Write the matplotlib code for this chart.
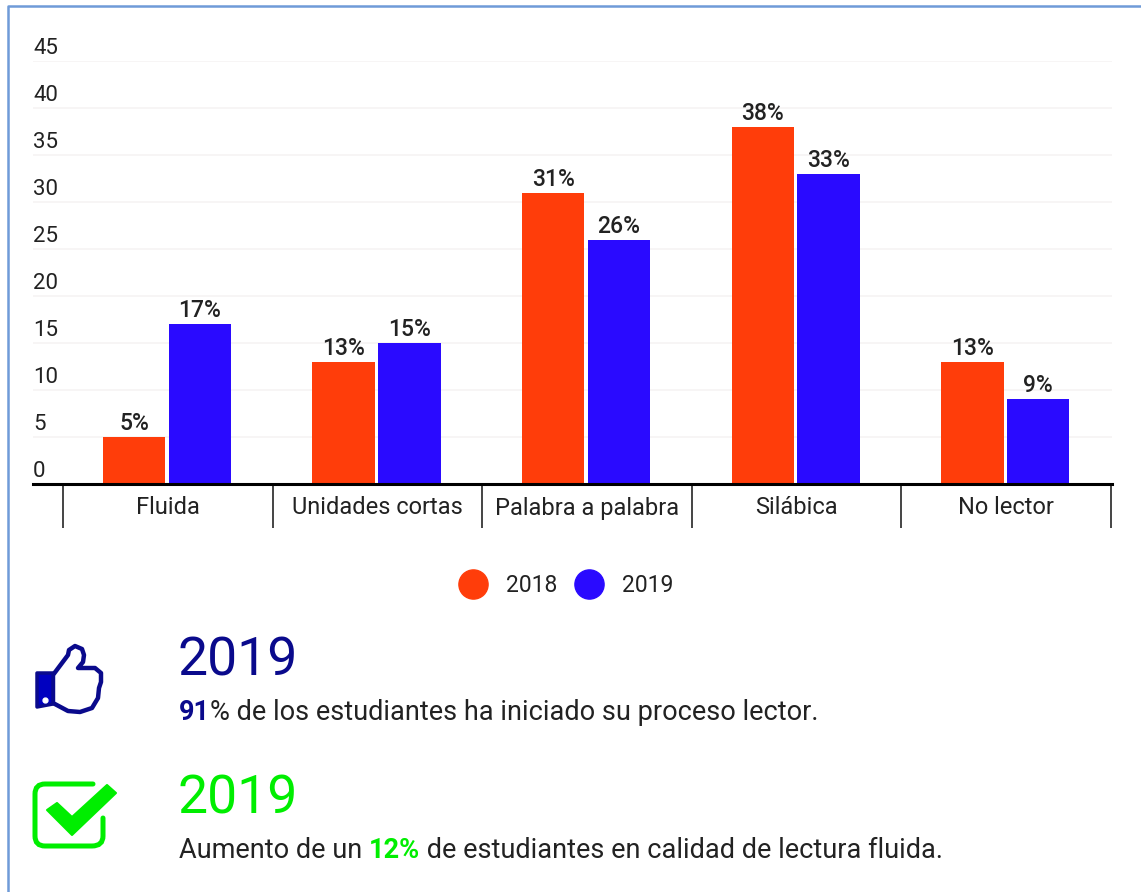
import matplotlib
matplotlib.use("Agg")
import matplotlib.pyplot as plt
from matplotlib.lines import Line2D
from matplotlib.patches import PathPatch, Polygon
from matplotlib.path import Path

plt.rcParams["font.family"] = ["Roboto", "DejaVu Sans"]

# Datos
categories = ["Fluida", "Unidades cortas", "Palabra a palabra", "Silábica", "No lector"]
values_2018 = [5, 13, 31, 38, 13]
values_2019 = [17, 15, 26, 33, 9]
y_ticks = [0, 5, 10, 15, 20, 25, 30, 35, 40, 45]
series_names = ["2018", "2019"]

RED = "#ff3d0a"
BLUE = "#2a0aff"
NAVY = "#0a0a8c"
GREEN = "#00ee00"
DARK = "#222222"
W, H = 1141, 892

fig = plt.figure(figsize=(W / 100, H / 100), dpi=100)

# Capa en pixeles para marco, iconos y textos
bg = fig.add_axes([0, 0, 1, 1])
bg.set_xlim(0, W)
bg.set_ylim(H, 0)
bg.axis("off")
bg.plot([8, 8, W], [H, 5.5, 5.5], color="#6f9bd8", lw=1.8)

# Grafico de barras
ax = fig.add_axes([33 / W, 1 - 484 / H, (1112 - 33) / W, (484 - 61) / H])
ax.patch.set_alpha(0)
x = list(range(len(categories)))
bar_w = 0.298
pos_a = [i - 0.161 for i in x]
pos_b = [i + 0.153 for i in x]
bars_a = ax.bar(pos_a, values_2018, bar_w, color=RED, zorder=3)
bars_b = ax.bar(pos_b, values_2019, bar_w, color=BLUE, zorder=3)
for bars in (bars_a, bars_b):
    ax.bar_label(bars, fmt="%d%%", padding=1.5, fontsize=16.5, fontweight="medium", color=DARK)

ax.set_xlim(-0.5 - 30 / 209.6, len(categories) - 0.5 + 1 / 209.6)
ax.set_ylim(0, 45)
ax.set_yticks(y_ticks)
ax.set_yticklabels([])
ax.tick_params(axis="y", length=0)
ax.grid(axis="y", color="#f6f4f4", lw=1.2, zorder=0)
for v in y_ticks:
    ax.annotate(str(v), xy=(0, v), xycoords=("axes fraction", "data"), xytext=(0, 1.2),
                textcoords="offset points", ha="left", va="bottom", fontsize=16, color=DARK)

ax.set_xticks(x)
ax.set_xticklabels(categories, fontsize=17, color=DARK)
ax.tick_params(axis="x", which="major", length=0, pad=9)
ax.set_xticks([i - 0.5 for i in range(len(categories) + 1)], minor=True)
ax.tick_params(axis="x", which="minor", length=32, width=1.4, color="#444444")
for s in ["top", "right", "left"]:
    ax.spines[s].set_visible(False)
ax.spines["bottom"].set_linewidth(2.2)
ax.spines["bottom"].set_color("black")
ax.spines["bottom"].set_zorder(5)

# Leyenda
handles = [Line2D([], [], ls="", marker="o", ms=21, color=c) for c in (RED, BLUE)]
fig.legend(handles, series_names, loc="center", bbox_to_anchor=(565 / W, 1 - 586 / H),
           ncol=2, frameon=False, fontsize=16.5, labelcolor=DARK, handletextpad=0.75,
           columnspacing=0.67, handlelength=1.4)

# Icono pulgar
thumb = [(53, 675), (68, 655), (69, 650), (75, 646), (82, 649), (84, 655), (83, 662), (78, 668), (95, 668),
         (101, 673), (101, 682), (99, 688), (98, 698), (92, 708), (80, 712), (68, 711), (53, 703)]
bg.add_patch(Polygon(thumb, closed=True, fc="white", ec=NAVY, lw=3.2, joinstyle="round"))
cuff = [(37, 673), (53, 673), (53, 704), (37, 707)]
bg.add_patch(Polygon(cuff, closed=True, fc="#0000c0", ec=NAVY, lw=2.5, joinstyle="round"))
bg.plot([45], [700], "o", ms=3.5, color="white")

# Icono check
box = Path([(93, 784), (45, 784), (35, 784), (35, 794), (35, 836), (35, 846), (45, 846), (92, 846),
            (103, 846), (103, 836), (103, 818)],
           [Path.MOVETO, Path.LINETO, Path.CURVE3, Path.CURVE3, Path.LINETO, Path.CURVE3, Path.CURVE3,
            Path.LINETO, Path.CURVE3, Path.CURVE3, Path.LINETO])
bg.add_patch(PathPatch(box, fc="none", ec=GREEN, lw=3.6, capstyle="round"))
check = [(47, 810), (57, 803), (72, 817), (107, 785), (116, 793), (72, 835)]
bg.add_patch(Polygon(check, closed=True, fc=GREEN, ec=GREEN, lw=1.5, joinstyle="round"))


def mixed_text(xp, yp, parts):
    # Escribe trozos de colores uno detras de otro
    renderer = fig.canvas.get_renderer()
    for txt, color, weight in parts:
        t = bg.text(xp, yp, txt, color=color, fontweight=weight, fontsize=19.5, va="baseline", ha="left")
        xp += t.get_window_extent(renderer).width


bg.text(178, 675, "2019", color=NAVY, fontsize=38.5, va="baseline")
mixed_text(179, 720, [("91", NAVY, "bold"), ("% de los estudiantes ha iniciado su proceso lector.", DARK, "normal")])
bg.text(178, 813, "2019", color=GREEN, fontsize=38.5, va="baseline")
mixed_text(179, 858, [("Aumento de un ", DARK, "normal"), ("12%", GREEN, "bold"),
                      (" de estudiantes en calidad de lectura fluida.", DARK, "normal")])

fig.savefig("out.png", dpi=100)
